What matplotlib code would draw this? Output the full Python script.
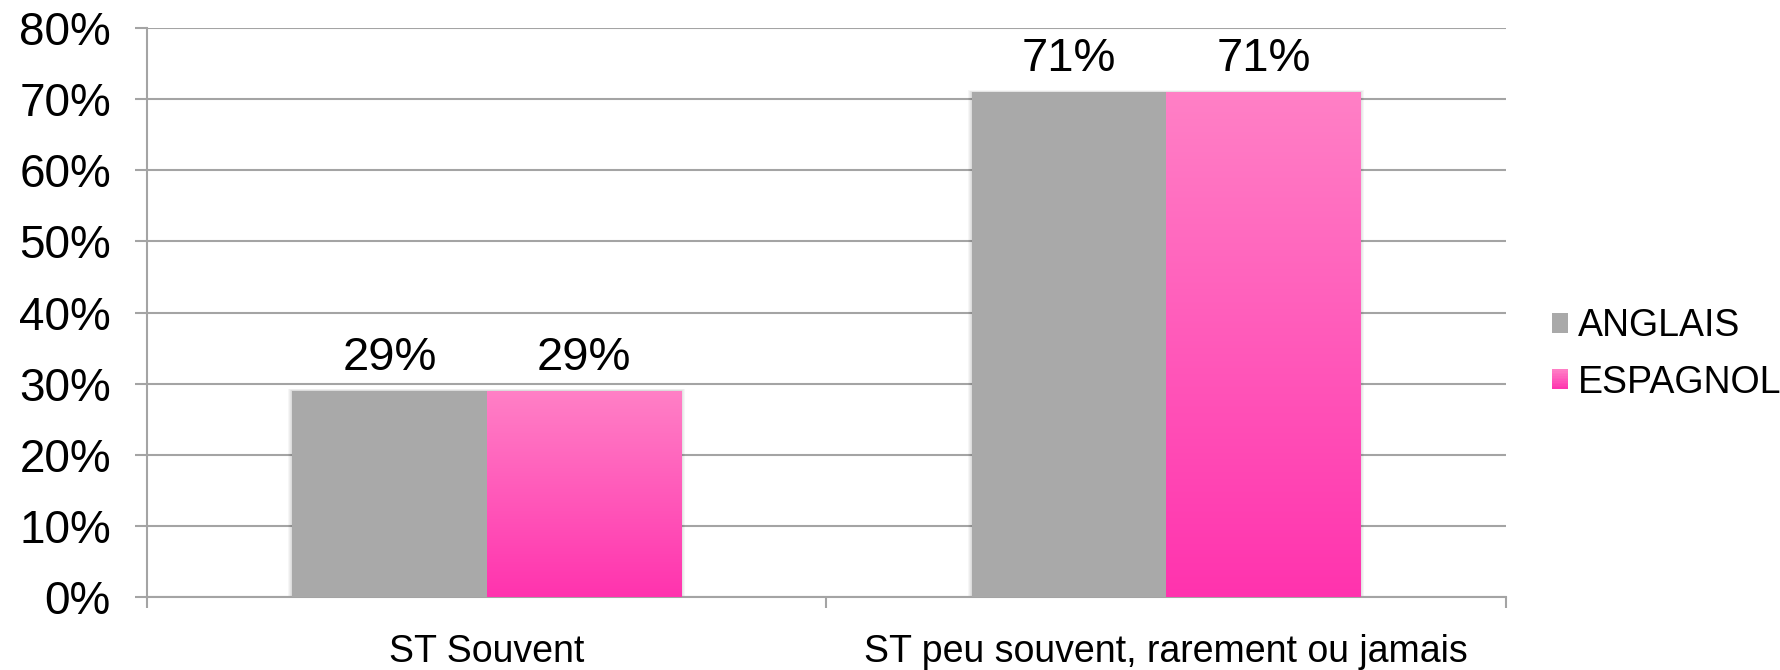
import numpy as np
import matplotlib
matplotlib.use("Agg")
import matplotlib.pyplot as plt
from matplotlib.colors import LinearSegmentedColormap
from matplotlib.patches import Rectangle
from matplotlib.legend_handler import HandlerBase
from matplotlib.ticker import FixedLocator, FuncFormatter

plt.rcParams['font.family'] = ['Liberation Sans', 'DejaVu Sans']

# Data
categories = ["ST Souvent", "ST peu souvent, rarement ou jamais"]
series_names = ["ANGLAIS", "ESPAGNOL"]
anglais = [29, 71]
espagnol = [29, 71]
y_ticks = [0, 10, 20, 30, 40, 50, 60, 70, 80]

GREY = "#a9a9a9"
PINK_LIGHT = "#ff80c6"
PINK_DEEP = "#ff33ae"
GRID = "#a4a4a4"
pink_cmap = LinearSegmentedColormap.from_list("pink", [PINK_DEEP, PINK_LIGHT])

fig = plt.figure(figsize=(17.8, 6.7), dpi=100)
ax = fig.add_axes([0.0826, 0.109, 0.8460 - 0.0826, 0.958 - 0.109])

x = np.arange(len(categories))
w = 0.286

bars_en = ax.bar(x - w / 2, anglais, w, color=GREY, zorder=3, linewidth=0)
bars_es = ax.bar(x + w / 2, espagnol, w, facecolor="none", zorder=3, linewidth=0)

# soft shadow around each pair of bars
px = 2.0 / (0.8460 - 0.0826) / 1780.0
for rg, rp in zip(bars_en, bars_es):
    left = rg.get_x()
    right = rp.get_x() + rp.get_width()
    h = max(rg.get_height(), rp.get_height())
    for k in range(1, 5):
        ax.add_patch(Rectangle((left - k * px, 0), right - left + 2 * k * px,
                               h + k * 0.06, facecolor="black", alpha=0.035,
                               linewidth=0, zorder=2))

# vertical gradient fill for the pink bars
grad = np.linspace(0, 1, 256).reshape(-1, 1)
for r in bars_es:
    im = ax.imshow(grad, extent=(r.get_x(), r.get_x() + r.get_width(), 0, r.get_height()),
                   origin="lower", aspect="auto", cmap=pink_cmap, zorder=3)
    im.set_clip_path(r)

ax.bar_label(bars_en, labels=[f"{v}%" for v in anglais], padding=8, fontsize=34)
ax.bar_label(bars_es, labels=[f"{v}%" for v in espagnol], padding=8, fontsize=34)

ax.set_xlim(-0.5, len(categories) - 0.5)
ax.set_ylim(0, 80)

ax.yaxis.set_major_locator(FixedLocator(y_ticks))
ax.yaxis.set_major_formatter(FuncFormatter(lambda v, p: f"{v:.0f}%"))
ax.tick_params(axis="y", length=9, width=1.5, color=GRID, pad=17, labelsize=33)

ax.set_xticks(np.arange(len(categories) + 1) - 0.5)
ax.set_xticklabels([])
ax.set_xticks(x, minor=True)
ax.set_xticklabels(categories, minor=True)
ax.tick_params(axis="x", which="major", length=8, width=1.5, color=GRID)
ax.tick_params(axis="x", which="minor", length=0, pad=27, labelsize=27)

ax.grid(axis="y", color=GRID, linewidth=1.5, zorder=0)
ax.set_axisbelow(True)
for s in ("top", "right"):
    ax.spines[s].set_visible(False)
for s in ("left", "bottom"):
    ax.spines[s].set_color(GRID)
    ax.spines[s].set_linewidth(1.5)


class GradientSquare(HandlerBase):
    def create_artists(self, legend, orig_handle, xdescent, ydescent, width, height,
                       fontsize, trans):
        n = 12
        arts = []
        for i in range(n):
            c = pink_cmap(1 - (i + 0.5) / n)
            arts.append(Rectangle((-xdescent, -ydescent + height * (n - 1 - i) / n),
                                  width, height / n + 0.05, facecolor=c,
                                  linewidth=0, transform=trans))
        return arts


h_en = Rectangle((0, 0), 1, 1, facecolor=GREY, linewidth=0)
h_es = Rectangle((0, 0), 1, 1, facecolor=PINK_DEEP, linewidth=0)
fig.legend([h_en, h_es], series_names, loc="center left",
           bbox_to_anchor=(0.872, 0.471), frameon=False, fontsize=27,
           handlelength=0.43, handleheight=0.43, handletextpad=0.25,
           labelspacing=0.55, borderpad=0, borderaxespad=0,
           handler_map={h_es: GradientSquare()})

fig.savefig("out.png", dpi=100, facecolor="white")
